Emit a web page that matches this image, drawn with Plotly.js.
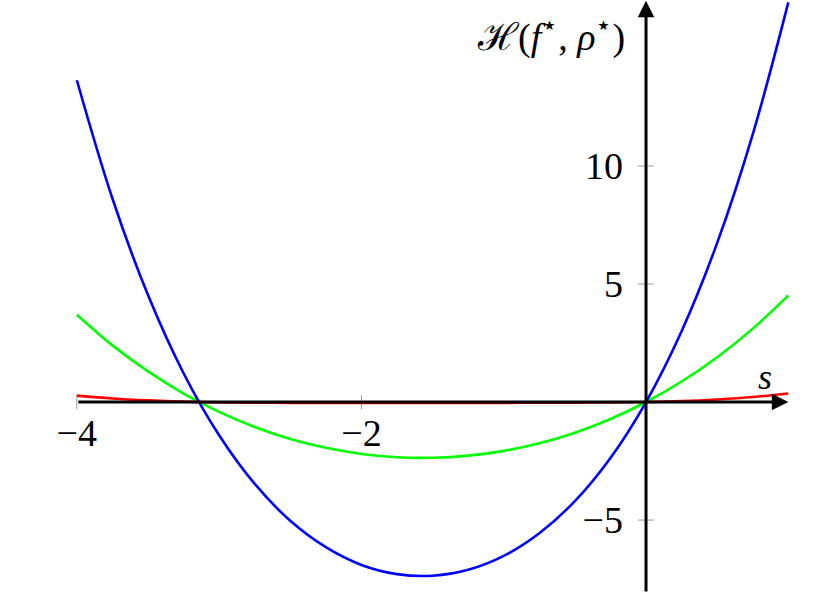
<!DOCTYPE html>
<html>
<head>
<meta charset="utf-8">
<script src="https://cdn.plot.ly/plotly-3.0.1.min.js"></script>
<style>html,body{margin:0;padding:0;background:#fff;}#chart{width:830px;height:593px;}</style>
</head>
<body>
<div id="chart"></div>
<script>
// ---- data ----
const sValues = [-4, -3.75, -3.5, -3.25, -3, -2.75, -2.5, -2.25, -2, -1.75, -1.5, -1.25, -1, -0.75, -0.5, -0.25, 0, 0.25, 0.5, 0.75, 1];
const blueH  = [13.63, 8.62, 4.53, 1.22, -1.41, -3.47, -5.03, -6.15, -6.90, -7.29, -7.36, -7.11, -6.52, -5.56, -4.20, -2.37, 0, 3.00, 6.74, 11.34, 16.93];
const greenH = [3.70, 2.40, 1.30, 0.36, -0.42, -1.06, -1.57, -1.94, -2.20, -2.34, -2.36, -2.27, -2.07, -1.75, -1.30, -0.72, 0, 0.87, 1.90, 3.11, 4.52];
const redH   = [0.27, 0.15, 0.07, 0.015, -0.015, -0.03, -0.035, -0.035, -0.035, -0.035, -0.035, -0.035, -0.035, -0.03, -0.025, -0.015, 0, 0.04, 0.11, 0.21, 0.36];
const xTickVals = [-4, -2];
const xTickText = ['\u22124', '\u22122'];
const yTickVals = [-5, 5, 10];
const yTickText = ['\u22125', '5', '10'];
const xLabel = '<i>s</i>';
const yLabel = '\u210B(<i>f</i><sup>\u22C6</sup>, <i>\u03C1</i><sup>\u22C6</sup>)';

// ---- layout geometry ----
const xRange = [-4.540, 1.293];
const yRange = [-8.09, 17.03];
const xAxisPos = (0 - yRange[0]) / (yRange[1] - yRange[0]);
const yAxisPos = (0 - xRange[0]) / (xRange[1] - xRange[0]);
const FONT = 'Liberation Serif';

function curve(y, color) {
  return {x: sValues, y: y, type: 'scatter', mode: 'lines',
    line: {color: color, width: 2.6, shape: 'spline', smoothing: 1.0},
    hoverinfo: 'skip', showlegend: false, cliponaxis: true};
}
const traces = [curve(greenH, '#00ff00'), curve(blueH, '#0000ff')];
const redTrace = curve(redH, '#ff0000');

const shapes = [];
xTickVals.forEach(v => shapes.push({type: 'line', xref: 'x', yref: 'y', ysizemode: 'pixel', yanchor: 0,
  x0: v, x1: v, y0: -7, y1: 7, line: {color: '#9a9a9a', width: 1}, layer: 'below'}));
yTickVals.forEach(v => shapes.push({type: 'line', xref: 'x', yref: 'y', xsizemode: 'pixel', xanchor: 0,
  y0: v, y1: v, x0: -8, x1: 8, line: {color: '#9a9a9a', width: 1}, layer: 'below'}));

const annotations = [
  // x axis with arrow
  {x: 1.0, y: 0, ax: -4, ay: 0, xref: 'x', yref: 'y', axref: 'x', ayref: 'y', text: '',
   showarrow: true, arrowhead: 2, arrowsize: 1.1, arrowwidth: 3, arrowcolor: '#000', standoff: 0},
  // y axis with arrow
  {x: 0, y: 17.0, ax: 0, ay: yRange[0], xref: 'x', yref: 'y', axref: 'x', ayref: 'y', text: '',
   showarrow: true, arrowhead: 2, arrowsize: 1.1, arrowwidth: 3, arrowcolor: '#000', standoff: 0},
  {x: 0.836, y: 1.05, xref: 'x', yref: 'y', text: xLabel, showarrow: false,
   xanchor: 'center', yanchor: 'middle', font: {family: FONT, size: 36, color: '#000'}},
  {x: -0.135, y: 15.55, xref: 'x', yref: 'y', text: yLabel, showarrow: false,
   xanchor: 'right', yanchor: 'middle', font: {family: FONT, size: 38, color: '#000'}}
];

const layout = {
  width: 830, height: 593,
  margin: {l: 0, r: 0, t: 0, b: 0, pad: 0},
  paper_bgcolor: '#fff', plot_bgcolor: '#fff',
  font: {family: FONT, size: 37, color: '#000'},
  showlegend: false,
  xaxis: {range: xRange, anchor: 'free', position: xAxisPos, showgrid: false, zeroline: false,
    showline: false, ticks: '', tickvals: xTickVals, ticktext: xTickText, ticklabelstandoff: 5,
    tickfont: {family: FONT, size: 38, color: '#000'}, fixedrange: true},
  yaxis: {range: yRange, anchor: 'free', position: yAxisPos, side: 'left', showgrid: false, zeroline: false,
    showline: false, ticks: '', tickvals: yTickVals, ticktext: yTickText, ticklabelstandoff: 23,
    tickfont: {family: FONT, size: 38, color: '#000'}, fixedrange: true},
  shapes: shapes,
  annotations: annotations
};

Plotly.newPlot('chart', traces.concat([redTrace]), layout, {displayModeBar: false, staticPlot: true});
</script>
</body>
</html>
